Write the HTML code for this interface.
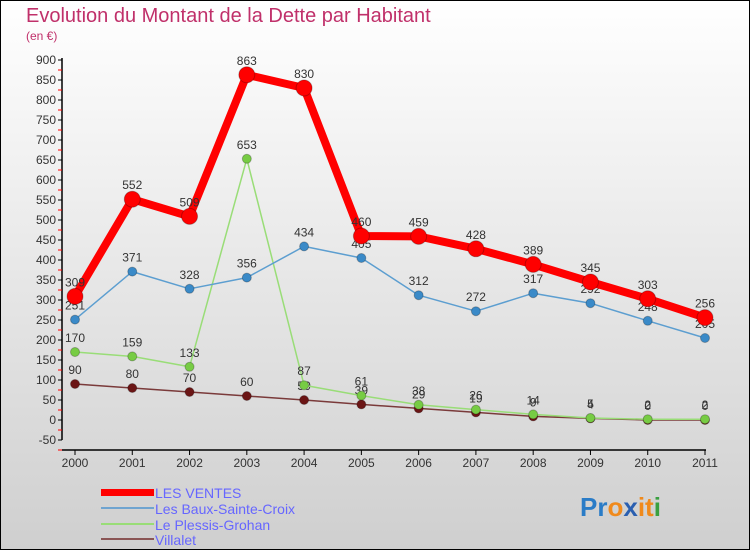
<!DOCTYPE html>
<html><head><meta charset="utf-8"><style>
body{margin:0}
#wrap{width:750px;height:550px;position:relative;font-family:"Liberation Sans",sans-serif}
svg text{font-family:"Liberation Sans",sans-serif}
</style></head><body>
<div id="wrap">
<svg id="chart" width="750" height="550" xmlns="http://www.w3.org/2000/svg">
<defs><linearGradient id="bg" x1="0" y1="0" x2="0" y2="1"><stop offset="0" stop-color="#ffffff"/><stop offset="1" stop-color="#cfcfcf"/></linearGradient></defs>
<rect x="0.5" y="0.5" width="749" height="549" fill="url(#bg)" stroke="#000"/>
<text x="26" y="22" font-size="20" fill="#c0306a">Evolution du Montant de la Dette par Habitant</text>
<text x="26" y="40" font-size="12" fill="#c0306a">(en €)</text>
<g id="axes"></g><g id="series"></g>
<g>
<rect x="101" y="489" width="53" height="7" fill="#f00"/>
<text x="155" y="498" font-size="14" fill="#6666ff">LES VENTES</text>
<line x1="101" y1="508" x2="154" y2="508" stroke="#6fa4d0" stroke-width="2"/>
<text x="155" y="514" font-size="14" fill="#6666ff">Les Baux-Sainte-Croix</text>
<line x1="101" y1="524" x2="154" y2="524" stroke="#99dd77" stroke-width="2"/>
<text x="155" y="530" font-size="14" fill="#6666ff">Le Plessis-Grohan</text>
<line x1="101" y1="539" x2="154" y2="539" stroke="#8a5555" stroke-width="2"/>
<text x="155" y="545" font-size="14" fill="#6666ff">Villalet</text>
</g>
<text x="580" y="516" font-size="26" font-weight="bold"><tspan fill="#2a7cc7">Pr</tspan><tspan fill="#f08a1c">o</tspan><tspan fill="#2a5fb0">x</tspan><tspan fill="#f08a1c">it</tspan><tspan fill="#3aa040">i</tspan></text>
</svg></div>
<script>
const years=[2000,2001,2002,2003,2004,2005,2006,2007,2008,2009,2010,2011];
const yTicks=[-50,0,50,100,150,200,250,300,350,400,450,500,550,600,650,700,750,800,850,900];
const lesVentes=[309,552,509,863,830,460,459,428,389,345,303,256];
const baux=[251,371,328,356,434,405,312,272,317,292,248,205];
const plessis=[170,159,133,653,87,61,38,26,14,5,2,2];
const villalet=[90,80,70,60,50,39,29,19,9,4,0,0];
const NS="http://www.w3.org/2000/svg";
function X(i){return 75+i*(630/11);}
function Y(v){return 420-v*0.4;}
function mk(t,a,p){const e=document.createElementNS(NS,t);for(const k in a)e.setAttribute(k,a[k]);p.appendChild(e);return e;}
const ax=document.getElementById('axes');
mk('line',{x1:62,y1:Y(900)-2,x2:62,y2:Y(-50),stroke:'#000','stroke-width':1.5},ax);
mk('line',{x1:62,y1:450,x2:X(11)+1,y2:450,stroke:'#000','stroke-width':1.5},ax);
yTicks.forEach(v=>{
 mk('line',{x1:58,y1:Y(v),x2:62,y2:Y(v),stroke:'#000'},ax);
 mk('line',{x1:58,y1:Y(v)+10,x2:62,y2:Y(v)+10,stroke:'#f00'},ax);
 const t=mk('text',{x:56,y:Y(v)+4,'font-size':12,fill:'#333','text-anchor':'end'},ax);
 
 
 t.textContent=v;
});
years.forEach((y,i)=>{
 mk('line',{x1:X(i),y1:450,x2:X(i),y2:455,stroke:'#000'},ax);
 const t=mk('text',{x:X(i),y:467,'font-size':12,fill:'#333','text-anchor':'middle'},ax);
 
 
 t.textContent=y;
});
const sg=document.getElementById('series');
function draw(vals,name,color,w,r,fill){
 const g=mk('g',{},sg);
 
 
 mk('polyline',{points:vals.map((v,i)=>X(i)+','+Y(v)).join(' '),fill:'none',stroke:color,'stroke-width':w,'stroke-linejoin':'round'},g);
 vals.forEach((v,i)=>{
  const c=mk('circle',{cx:X(i),cy:Y(v),r:r,fill:fill,stroke:'rgba(0,0,0,0.25)','stroke-width':1},g);
  
  
  const t=mk('text',{x:X(i),y:Y(v)-10,'font-size':12,fill:'#333','text-anchor':'middle'},g);
  
  
  t.textContent=v;
 });
}
draw(villalet,'villalet-series','#7a3a3a',1.5,4.5,'#6b1515');
draw(plessis,'plessis-series','#99dd77',1.5,4.5,'#77cc44');
draw(baux,'baux-series','#5c9ed0',1.5,4.5,'#3a8ac8');
draw(lesVentes,'les-ventes-series','#f00',8,8,'#f00');
</script>
</body></html>
